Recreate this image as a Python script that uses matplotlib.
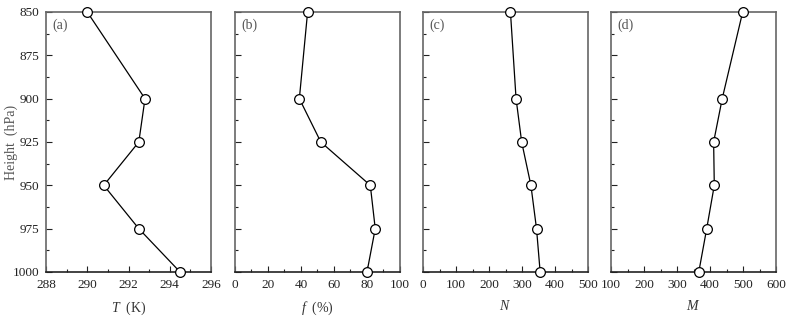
import numpy as np
import matplotlib
matplotlib.use("Agg")
import matplotlib.pyplot as plt
from matplotlib.ticker import MultipleLocator

plt.rcParams['font.family'] = ['Liberation Serif', 'DejaVu Serif']
plt.rcParams['mathtext.fontset'] = 'custom'
plt.rcParams['mathtext.it'] = 'Liberation Serif:italic'
plt.rcParams['mathtext.rm'] = 'Liberation Serif'

# pressure levels (hPa)
levels = [850, 900, 925, 950, 975, 1000]

# panel values
temp_K = [290.0, 292.8, 292.5, 290.8, 292.5, 294.5]
rel_hum = [44, 39, 52, 82, 85, 80]
n_conc = [265, 282, 299, 327, 344, 355]
m_conc = [499, 437, 411, 413, 390, 366]

panel_tags = ['(a)', '(b)', '(c)', '(d)']
xlabels = ['$T$  (K)', '$f$  (%)', '$N$', '$M$']
xlims = [(288, 296), (0, 100), (0, 500), (100, 600)]
xmajor = [2, 20, 100, 100]
xminor = [1, 10, 50, 50]
series = [temp_K, rel_hum, n_conc, m_conc]

frame = '#666666'
fig = plt.figure(figsize=(7.87, 3.18), dpi=100)
lefts = [46, 235, 423, 611]
for i in range(4):
    ax = fig.add_axes([lefts[i] / 787, 1 - 272 / 318, 165 / 787, 260 / 318])
    ax.plot(series[i], levels, color='black', lw=0.9, marker='o', ms=7,
            mfc='white', mec='black', mew=0.9, clip_on=False, zorder=5)
    ax.set_xlim(*xlims[i])
    ax.set_ylim(1000, 850)
    ax.xaxis.set_major_locator(MultipleLocator(xmajor[i]))
    ax.xaxis.set_minor_locator(MultipleLocator(xminor[i]))
    ax.yaxis.set_major_locator(MultipleLocator(25))
    ax.yaxis.set_minor_locator(MultipleLocator(12.5))
    ax.tick_params(which='both', direction='in', top=False, right=False,
                   labelsize=9.5, colors='#222222', pad=5)
    ax.tick_params(which='major', length=4, width=0.8)
    ax.tick_params(which='minor', length=2.5, width=0.8)
    for s in ['top', 'right', 'left']:
        ax.spines[s].set_color(frame)
        ax.spines[s].set_linewidth(1.2)
    ax.spines['bottom'].set_color('#222222')
    ax.spines['bottom'].set_linewidth(1.2)
    ax.set_xlabel(xlabels[i], fontsize=10, color='#333333', labelpad=6)
    ax.text(0.04, 0.975, panel_tags[i], transform=ax.transAxes, fontsize=10,
            color='#555555', va='top', ha='left')
    if i == 0:
        ax.set_ylabel('Height  (hPa)', fontsize=10, color='#555555')
        ax.yaxis.set_label_coords(-28 / 165, 0.5)
    else:
        ax.tick_params(axis='y', labelleft=False)

fig.savefig('out.png', dpi=100)
